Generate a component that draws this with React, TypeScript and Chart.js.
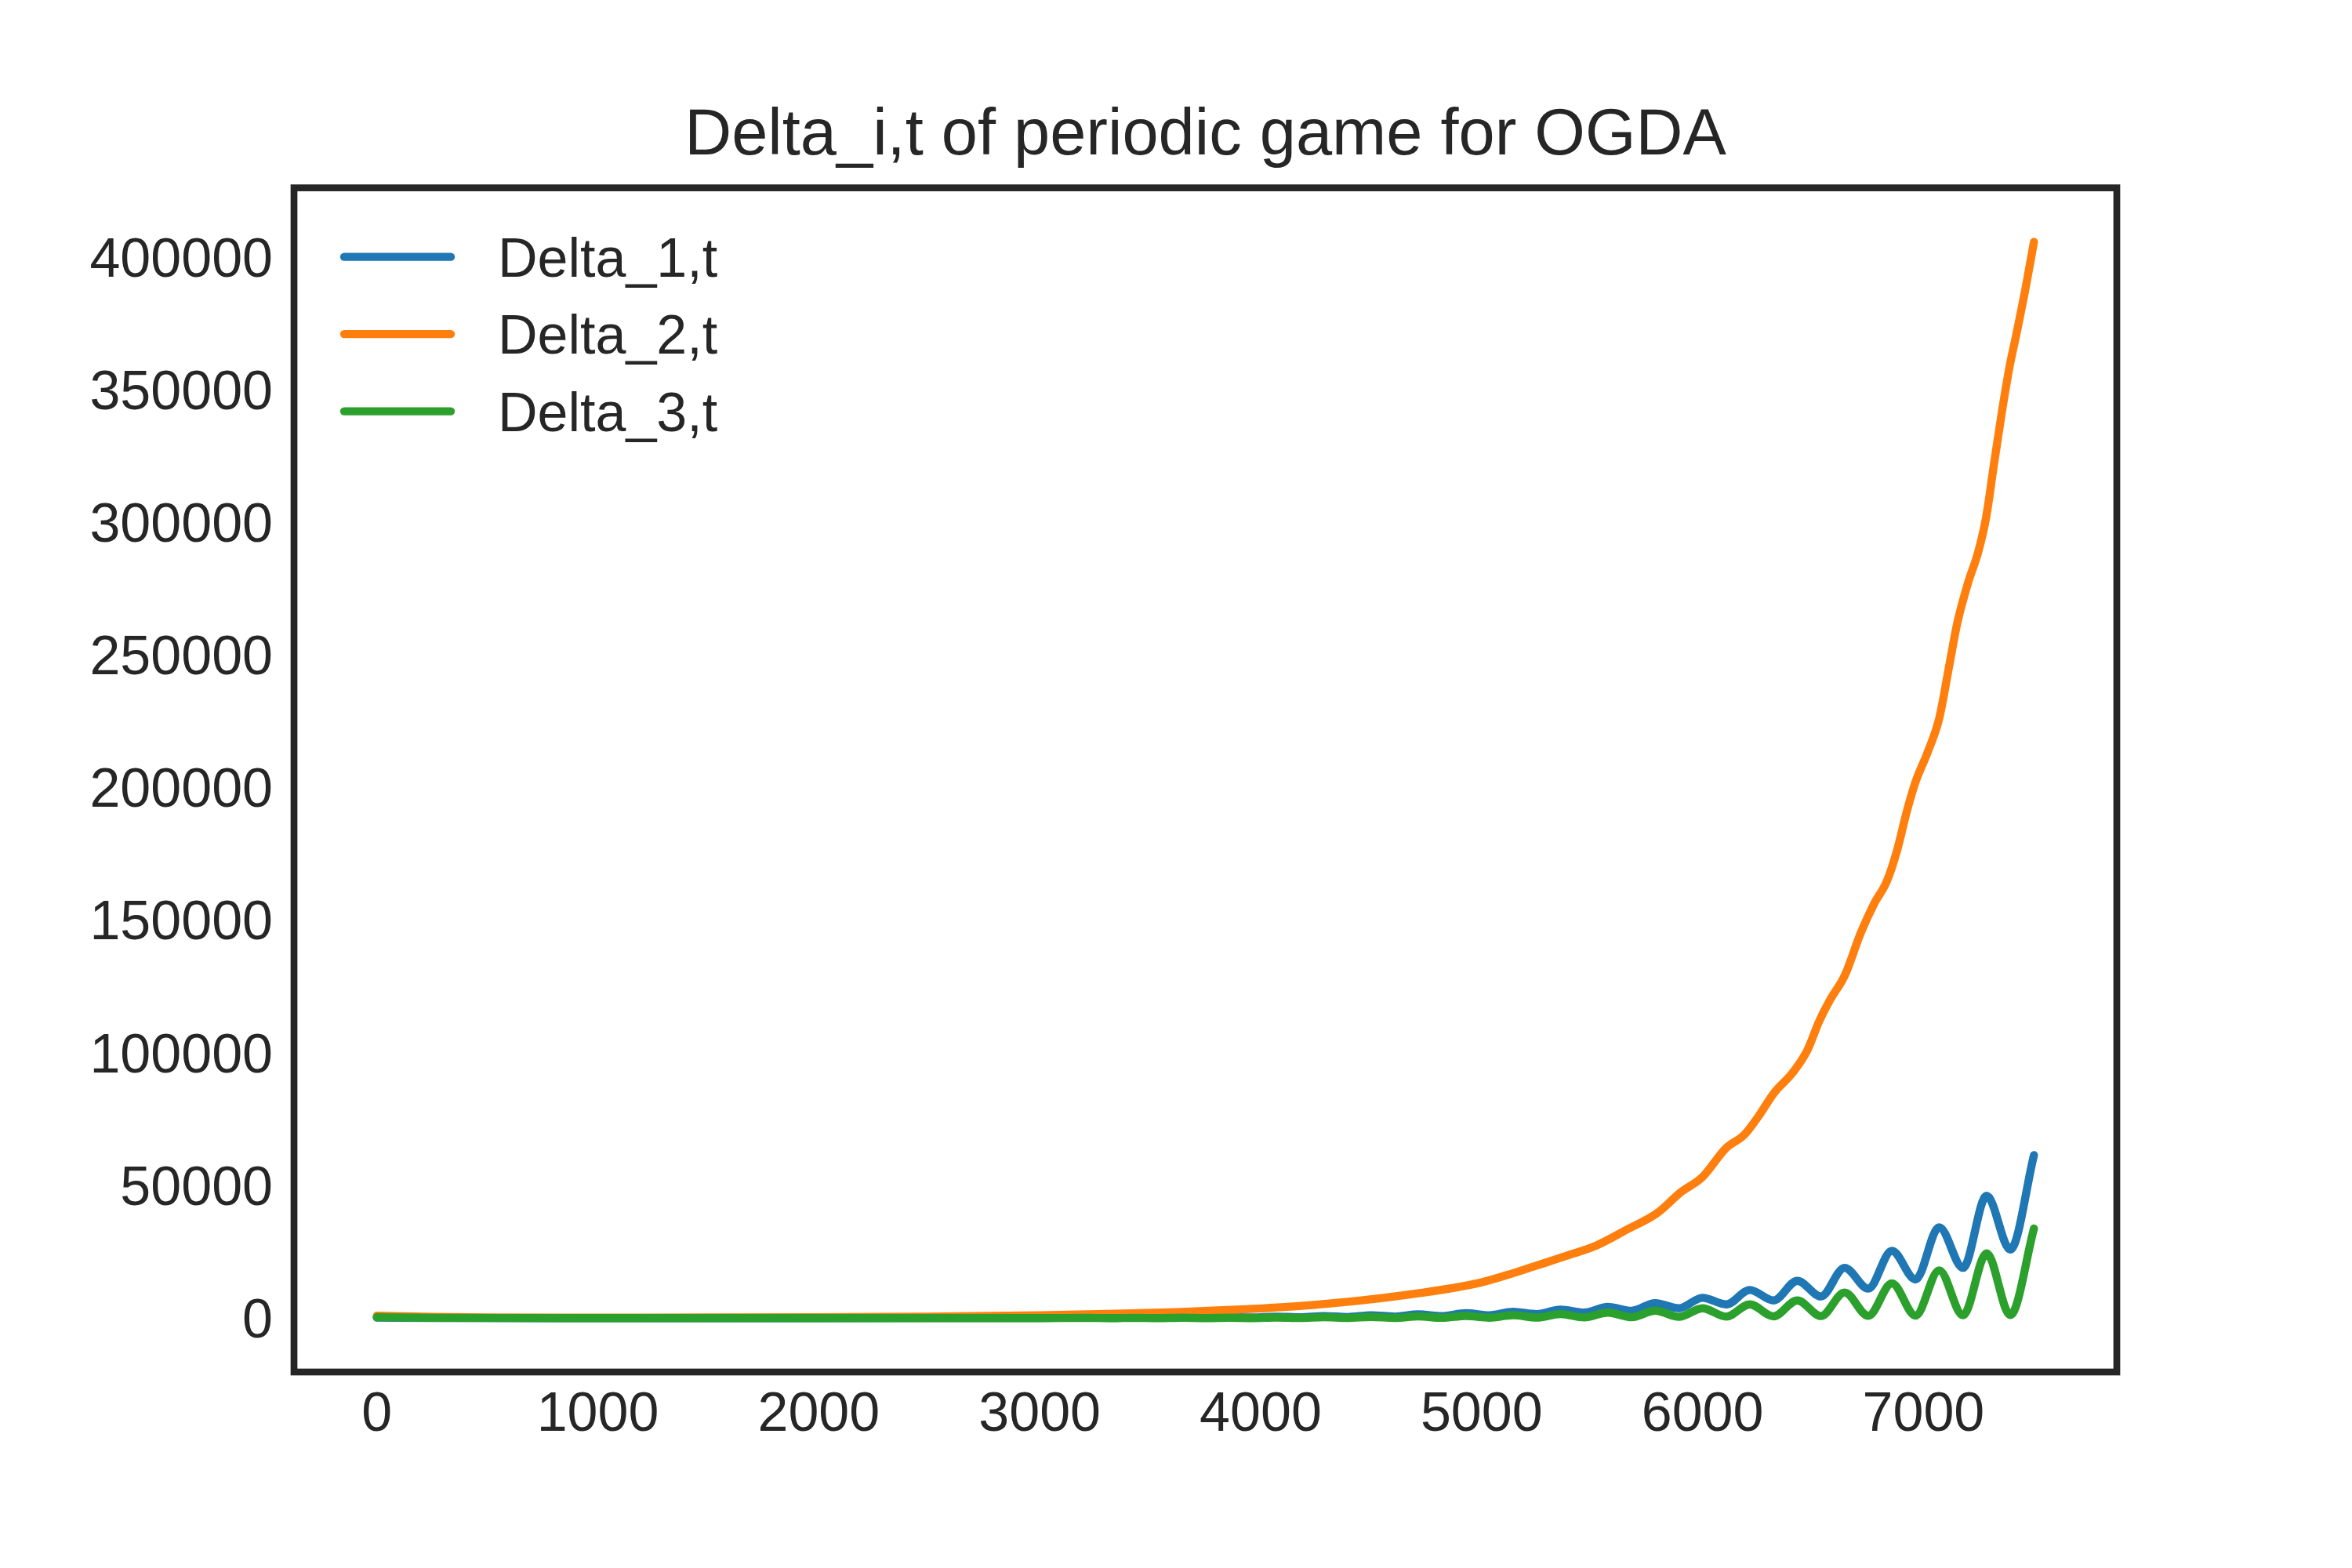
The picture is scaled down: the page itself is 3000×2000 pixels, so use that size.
import { useEffect, useRef } from "react";
import { Chart, registerables } from "chart.js";

Chart.register(...registerables);

// time steps shared by Delta_1 and Delta_3 (peaks / troughs of the oscillation)
const oscSteps = [
	0, 250, 500, 1000, 1500, 2000, 2500, 3000, 3214, 3321, 3429, 3536, 3643,
	3750, 3857, 3964, 4071, 4179, 4286, 4393, 4500, 4607, 4714, 4821, 4929,
	5036, 5143, 5250, 5357, 5464, 5571, 5679, 5786, 5893, 6000, 6107, 6214,
	6321, 6429, 6536, 6643, 6750, 6857, 6964, 7071, 7179, 7286, 7393, 7500,
];
const delta1 = [
	250, 120, 60, 30, 30, 40, 60, 100, 170, 110, 250, 150, 330, 200, 450, 260,
	600, 340, 800, 450, 1100, 600, 1450, 800, 1900, 1100, 2450, 1550, 3200,
	2100, 4250, 2800, 5700, 3750, 7700, 5200, 10650, 6700, 14100, 8200, 19000,
	11150, 25400, 14600, 34300, 19000, 46200, 25900, 61500,
];
const delta3 = [
	350, 150, 60, 20, 20, 20, 30, 40, 90, 20, 120, 20, 160, 30, 200, 40, 270,
	60, 360, 80, 480, 100, 650, 150, 850, 200, 1150, 250, 1550, 300, 2100, 400,
	2860, 500, 3750, 600, 5230, 700, 6700, 800, 9670, 900, 13100, 1000, 18050,
	1100, 24450, 1200, 33800,
];

const orangeSteps = [
	0, 250, 500, 1000, 1500, 2000, 2500, 3000, 3300, 3618, 3890, 4161, 4433,
	4705, 4973, 5112, 5247, 5383, 5519, 5655, 5795, 5903, 5998, 6107, 6188,
	6256, 6324, 6406, 6474, 6528, 6574, 6645, 6716, 6775, 6835, 6882, 6923,
	6965, 7018, 7071, 7118, 7154, 7201, 7248, 7284, 7319, 7355, 7390, 7420,
	7461, 7500,
];
const delta2 = [
	900, 500, 300, 220, 250, 350, 600, 1100, 1600, 2300, 3200, 4500, 6500, 9300,
	13000, 16200, 19800, 23500, 27400, 33300, 39650, 47600, 53100, 64200, 69100,
	76500, 85000, 92400, 101000, 112000, 119600, 129500, 145300, 156100, 165000,
	176900, 190700, 202500, 213300, 226200, 246800, 262600, 277200, 289100,
	302300, 322100, 341900, 359100, 371000, 388100, 406000,
];

const seriesLabels = ["Delta_1,t", "Delta_2,t", "Delta_3,t"];
const seriesColors = ["#1f77b4", "#ff7f0e", "#2ca02c"];
const xTicks = [0, 1000, 2000, 3000, 4000, 5000, 6000, 7000];
const yTicks = [0, 50000, 100000, 150000, 200000, 250000, 300000, 350000, 400000];
const chartTitle = "Delta_i,t of periodic game for OGDA";

const TEXT = "#262626";
const FONT = "'Liberation Sans', Arial, sans-serif";

const toPoints = (xs: number[], ys: number[]) =>
	xs.map((x, i) => ({ x, y: ys[i] }));

// spines on all four sides, drawn over the lines like matplotlib does
const framePlugin = {
	id: "frame",
	afterDatasetsDraw(chart: Chart) {
		const { ctx, chartArea } = chart;
		ctx.save();
		ctx.strokeStyle = TEXT;
		ctx.lineWidth = 8.7;
		ctx.lineJoin = "miter";
		ctx.strokeRect(
			chartArea.left,
			chartArea.top,
			chartArea.right - chartArea.left,
			chartArea.bottom - chartArea.top,
		);
		ctx.restore();
	},
};

// legend in the upper left corner of the axes
const innerLegendPlugin = {
	id: "innerLegend",
	afterDraw(chart: Chart) {
		const { ctx, chartArea } = chart;
		ctx.save();
		ctx.font = `70px ${FONT}`;
		ctx.textAlign = "left";
		ctx.textBaseline = "alphabetic";
		chart.data.datasets.forEach((ds, i) => {
			const y = chartArea.top + 88 + i * 98.5;
			ctx.strokeStyle = ds.borderColor as string;
			ctx.lineWidth = 10.4;
			ctx.lineCap = "round";
			ctx.beginPath();
			ctx.moveTo(chartArea.left + 64, y);
			ctx.lineTo(chartArea.left + 200, y);
			ctx.stroke();
			ctx.fillStyle = TEXT;
			ctx.fillText(ds.label as string, chartArea.left + 260, y + 25);
		});
		ctx.restore();
	},
};

export default function App() {
	const canvasRef = useRef<HTMLCanvasElement | null>(null);

	useEffect(() => {
		if (!canvasRef.current) return;
		const lineStyle = {
			borderWidth: 10.4,
			pointRadius: 0,
			borderCapStyle: "round" as const,
			borderJoinStyle: "round" as const,
			cubicInterpolationMode: "monotone" as const,
		};
		const chart = new Chart(canvasRef.current, {
			type: "line",
			data: {
				datasets: [
					{
						label: seriesLabels[0],
						data: toPoints(oscSteps, delta1),
						borderColor: seriesColors[0],
						order: 3,
						...lineStyle,
					},
					{
						label: seriesLabels[1],
						data: toPoints(orangeSteps, delta2),
						borderColor: seriesColors[1],
						order: 2,
						...lineStyle,
					},
					{
						label: seriesLabels[2],
						data: toPoints(oscSteps, delta3),
						borderColor: seriesColors[2],
						order: 1,
						...lineStyle,
					},
				],
			},
			options: {
				animation: false,
				responsive: false,
				devicePixelRatio: 1,
				layout: { padding: { left: 0, right: 300, top: 0, bottom: 0 } },
				scales: {
					x: {
						type: "linear",
						min: -375,
						max: 7875,
						grid: { display: false },
						border: { display: false },
						afterBuildTicks: (scale) => {
							scale.ticks = xTicks.map((value) => ({ value }));
						},
						afterFit: (scale) => {
							scale.height = 250;
						},
						ticks: {
							color: TEXT,
							font: { family: FONT, size: 70 },
							padding: 6,
							maxRotation: 0,
							callback: (v) => String(v),
						},
					},
					y: {
						type: "linear",
						min: -20300,
						max: 426400,
						grid: { display: false, drawTicks: false },
						border: { display: false },
						afterBuildTicks: (scale) => {
							scale.ticks = yTicks.map((value) => ({ value }));
						},
						afterFit: (scale) => {
							scale.width = 375;
						},
						ticks: {
							color: TEXT,
							font: { family: FONT, size: 70 },
							padding: 27,
							labelOffset: 5,
							callback: (v) => String(v),
						},
					},
				},
				plugins: {
					legend: { display: false },
					tooltip: { enabled: false },
					title: {
						display: true,
						text: chartTitle,
						color: TEXT,
						fullSize: false,
						font: { family: FONT, size: 83, weight: "normal", lineHeight: 1.2 },
						padding: { top: 124, bottom: 16 },
					},
				},
			},
			plugins: [framePlugin, innerLegendPlugin],
		});
		return () => {
			chart.destroy();
		};
	}, []);

	return (
		<div
			style={{
				position: "absolute",
				left: 0,
				top: 0,
				width: 3000,
				height: 2000,
				background: "#ffffff",
			}}
		>
			<canvas ref={canvasRef} width={3000} height={2000} style={{ display: "block" }} />
		</div>
	);
}
